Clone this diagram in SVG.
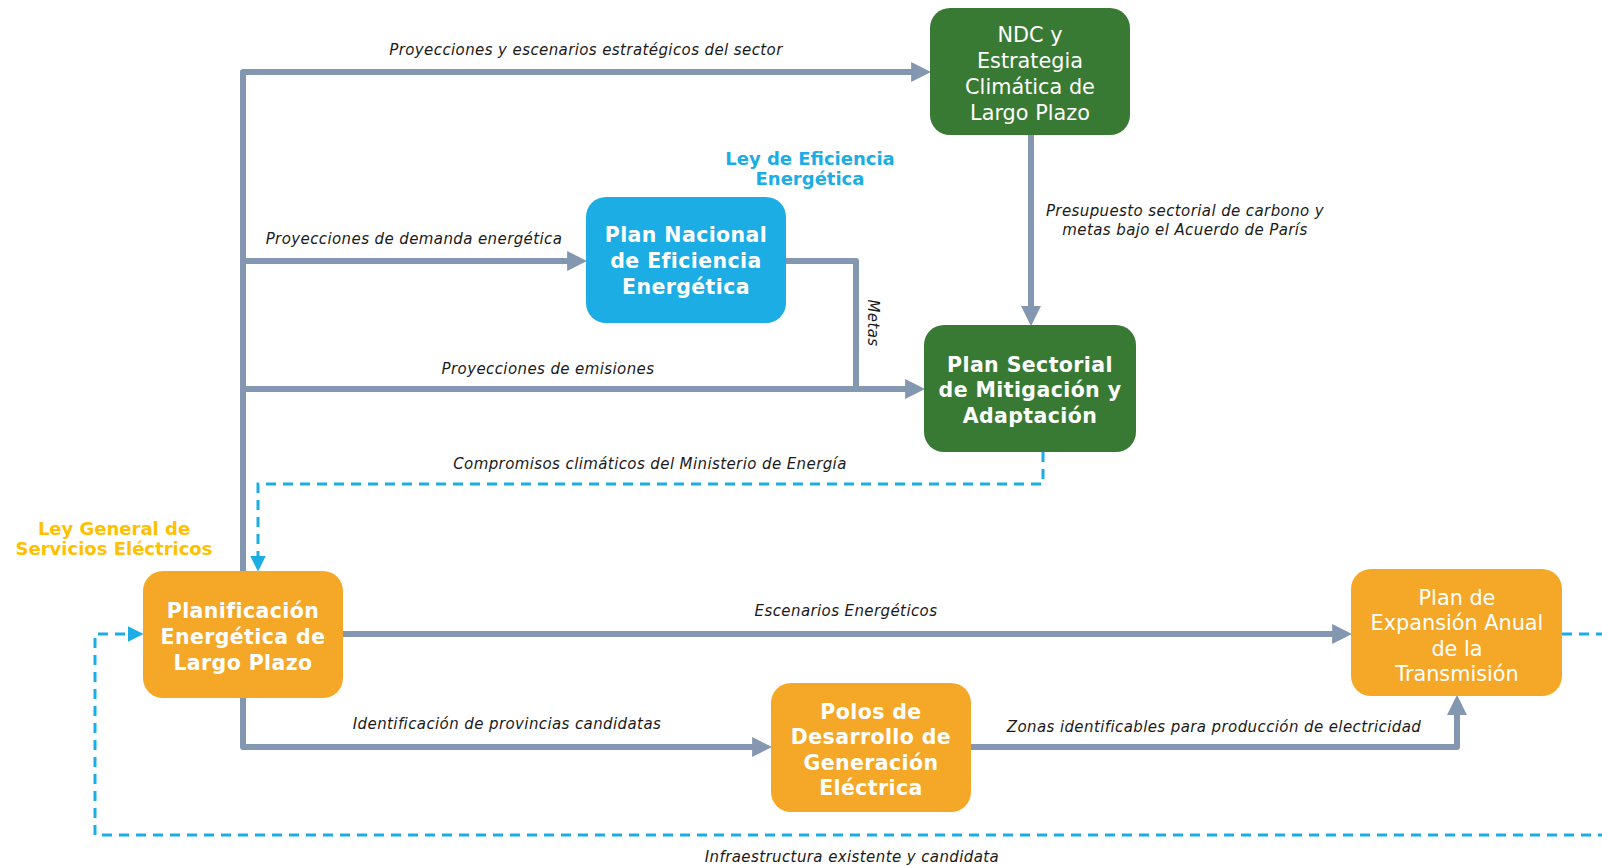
<svg xmlns="http://www.w3.org/2000/svg" width="1602" height="866" viewBox="0 0 1602 866">
<style>
.box{stroke:none}
.green{fill:#387A33}
.blue{fill:#1BADE4}
.orange{fill:#F5A827}
.bt{font-family:"DejaVu Sans","Liberation Sans",sans-serif;font-size:20.5px;font-weight:bold;fill:#fff;text-anchor:middle;letter-spacing:0.4px}
.nt{font-family:"DejaVu Sans","Liberation Sans",sans-serif;font-size:20.8px;fill:#fff;text-anchor:middle}
.lbl{font-family:"DejaVu Sans","Liberation Sans",sans-serif;font-size:15px;font-style:italic;fill:#1a1a1a;text-anchor:middle;letter-spacing:0.4px}
.law{font-family:"DejaVu Sans","Liberation Sans",sans-serif;font-size:18px;font-weight:bold;text-anchor:middle}
.gl{fill:none;stroke:#8497B0;stroke-width:6;stroke-linejoin:round}
.dl{fill:none;stroke:#1BADE4;stroke-width:3;stroke-dasharray:10 7}
</style>
<defs>
<marker id="ag" markerUnits="userSpaceOnUse" markerWidth="20" markerHeight="20" viewBox="0 0 18 18" refX="8" refY="9" orient="auto">
<path d="M0,0 L18,9 L0,18 z" fill="#8497B0"/>
</marker>
<marker id="ab" markerUnits="userSpaceOnUse" markerWidth="16" markerHeight="16" viewBox="0 0 15 15" refX="7" refY="7.5" orient="auto">
<path d="M0,0 L15,7.5 L0,15 z" fill="#1BADE4"/>
</marker>
</defs>

<g id="connectors">
<path class="gl" d="M243,571 L243,72 L920,72" marker-end="url(#ag)"/>
<path class="gl" d="M243,261 L576,261" marker-end="url(#ag)"/>
<path class="gl" d="M243,389 L914,389" marker-end="url(#ag)"/>
<path class="gl" d="M786,261 L856,261 L856,389"/>
<path class="gl" d="M1031,135 L1031,315" marker-end="url(#ag)"/>
<path class="dl" d="M1043,452 L1043,484 L258,484 L258,563" marker-end="url(#ab)"/>
<path class="gl" d="M343,634 L1341,634" marker-end="url(#ag)"/>
<path class="gl" d="M243,698 L243,747 L761,747" marker-end="url(#ag)"/>
<path class="gl" d="M971,747 L1457,747 L1457,706" marker-end="url(#ag)"/>
<path class="dl" d="M1562,634 L1612,634 L1612,835 L95,835 L95,634 L135,634" marker-end="url(#ab)"/>

<text class="lbl" x="586" y="55">Proyecciones y escenarios estratégicos del sector</text>
<text class="lbl" x="414" y="244">Proyecciones de demanda energética</text>
<text class="lbl" x="548" y="374">Proyecciones de emisiones</text>
<text class="lbl" transform="translate(868,323) rotate(90)" x="0" y="0">Metas</text>
<text class="lbl" x="1185" y="216">Presupuesto sectorial de carbono y</text>
<text class="lbl" x="1185" y="235">metas bajo el Acuerdo de París</text>
<text class="lbl" x="650" y="469">Compromisos climáticos del Ministerio de Energía</text>
<text class="lbl" x="846" y="616">Escenarios Energéticos</text>
<text class="lbl" x="507" y="729">Identificación de provincias candidatas</text>
<text class="lbl" x="1214" y="732">Zonas identificables para producción de electricidad</text>
<text class="lbl" x="852" y="862">Infraestructura existente y candidata</text>
</g>

<g id="law-eficiencia">
<text class="law" fill="#1BADE4" x="810" y="165">Ley de Eficiencia</text>
<text class="law" fill="#1BADE4" x="810" y="185">Energética</text>
</g>
<g id="law-general">
<text class="law" fill="#FFC000" x="114" y="535">Ley General de</text>
<text class="law" fill="#FFC000" x="114" y="555">Servicios Eléctricos</text>
</g>

<g id="ndc">
<rect class="box green" x="930" y="8" width="200" height="127" rx="20"/>
<text class="nt" x="1030" y="42">NDC y</text>
<text class="nt" x="1030" y="68">Estrategia</text>
<text class="nt" x="1030" y="94">Climática de</text>
<text class="nt" x="1030" y="120">Largo Plazo</text>
</g>

<g id="pnee">
<rect class="box blue" x="586" y="197" width="200" height="126" rx="20"/>
<text class="bt" x="686" y="242">Plan Nacional</text>
<text class="bt" x="686" y="268">de Eficiencia</text>
<text class="bt" x="686" y="294">Energética</text>
</g>

<g id="psma">
<rect class="box green" x="924" y="325" width="212" height="127" rx="20"/>
<text class="bt" x="1030" y="372">Plan Sectorial</text>
<text class="bt" x="1030" y="397">de Mitigación y</text>
<text class="bt" x="1030" y="423">Adaptación</text>
</g>

<g id="pelp">
<rect class="box orange" x="143" y="571" width="200" height="127" rx="20"/>
<text class="bt" x="243" y="618">Planificación</text>
<text class="bt" x="243" y="644">Energética de</text>
<text class="bt" x="243" y="670">Largo Plazo</text>
</g>

<g id="peat">
<rect class="box orange" x="1351" y="569" width="211" height="127" rx="20"/>
<text class="nt" x="1457" y="605">Plan de</text>
<text class="nt" x="1457" y="630">Expansión Anual</text>
<text class="nt" x="1457" y="656">de la</text>
<text class="nt" x="1457" y="681">Transmisión</text>
</g>

<g id="polos">
<rect class="box orange" x="771" y="683" width="200" height="129" rx="20"/>
<text class="bt" x="871" y="719">Polos de</text>
<text class="bt" x="871" y="744">Desarrollo de</text>
<text class="bt" x="871" y="770">Generación</text>
<text class="bt" x="871" y="795">Eléctrica</text>
</g>
</svg>
